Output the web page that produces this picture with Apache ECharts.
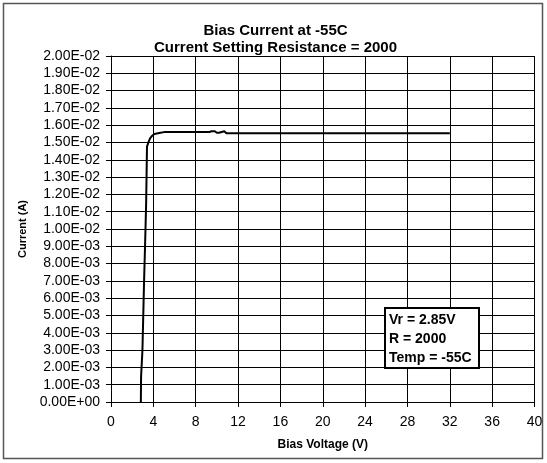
<!DOCTYPE html>
<html>
<head>
<meta charset="utf-8">
<script src="https://cdn.jsdelivr.net/npm/echarts@6/dist/echarts.min.js"></script>
<style>html,body{margin:0;padding:0;background:#fff}#c{width:547px;height:463px}</style>
</head>
<body>
<div id="c"></div>
<script>
const titleLines = ['Bias Current at -55C', 'Current Setting Resistance = 2000'];
const xAxisName = 'Bias Voltage (V)';
const yAxisName = 'Current (A)';
const noteLines = ['Vr = 2.85V', 'R = 2000', 'Temp = -55C'];
const voltage = [2.82, 2.84, 2.95, 2.97, 3.10, 3.12, 3.20, 3.22, 3.30, 3.32, 3.40, 3.40, 3.56, 3.69, 3.87, 4.09, 4.56, 5.0, 6.0, 8.0, 9.3, 9.5, 9.8, 10.0, 10.2, 10.3, 10.7, 10.9, 12.0, 16.0, 20.0, 24.0, 28.0, 32.0];
const current = [0, 1.46e-3, 1.50e-3, 3.0e-3, 3.1e-3, 6.9e-3, 7.0e-3, 9.1e-3, 9.2e-3, 11.5e-3, 11.6e-3, 14.76e-3, 15.05e-3, 15.24e-3, 15.38e-3, 15.49e-3, 15.55e-3, 15.60e-3, 15.61e-3, 15.61e-3, 15.61e-3, 15.65e-3, 15.65e-3, 15.56e-3, 15.56e-3, 15.65e-3, 15.65e-3, 15.54e-3, 15.54e-3, 15.53e-3, 15.53e-3, 15.53e-3, 15.53e-3, 15.53e-3];

const series = voltage.map((v, i) => [v, current[i]]);
const F = 'Liberation Sans, Arial, sans-serif';
const chart = echarts.init(document.getElementById('c'), null, {renderer: 'canvas'});
chart.setOption({
  animation: false,
  backgroundColor: '#fff',
  title: {
    text: titleLines.join('\n'),
    left: 270.5, top: 17, textAlign: 'center',
    textStyle: {fontFamily: F, fontSize: 15, fontWeight: 'bold', color: '#000', lineHeight: 17}
  },
  grid: {left: 111, right: 12.5, top: 56, bottom: 61},
  xAxis: {
    type: 'value', min: 0, max: 40, interval: 4,
    name: xAxisName, nameLocation: 'middle', nameGap: 37,
    nameTextStyle: {fontFamily: F, fontSize: 12, fontWeight: 'bold', color: '#000'},
    axisLine: {show: true, onZero: false, lineStyle: {color: '#000', width: 1}},
    axisTick: {show: true, length: 5, lineStyle: {color: '#000'}},
    axisLabel: {fontFamily: F, fontSize: 14, color: '#000', margin: 13},
    splitLine: {show: true, lineStyle: {color: '#000', width: 1}}
  },
  yAxis: {
    type: 'value', min: 0, max: 0.02, interval: 0.001,
    name: yAxisName, nameLocation: 'middle', nameGap: 83, nameRotate: 90,
    nameTextStyle: {fontFamily: F, fontSize: 11, fontWeight: 'bold', color: '#000'},
    axisLine: {show: true, lineStyle: {color: '#000', width: 1}},
    axisTick: {show: true, length: 5, lineStyle: {color: '#000'}},
    axisLabel: {
      fontFamily: F, fontSize: 14, color: '#000', margin: 11,
      formatter: v => {
        let s = Number(v).toExponential(2).toUpperCase();
        s = s.replace(/E([+-])(\d)$/, 'E$10$2');
        return s;
      }
    },
    splitLine: {show: true, lineStyle: {color: '#000', width: 1}}
  },
  series: [{
    type: 'line', data: series, showSymbol: false, symbol: 'none',
    lineStyle: {color: '#000', width: 2}
  }],
  graphic: [
    {type: 'rect', shape: {x: 3.5, y: 3.5, width: 539, height: 455}, style: {fill: 'none', stroke: '#555', lineWidth: 1.5}, silent: true},
    {type: 'rect', shape: {x: 385, y: 308, width: 94, height: 60}, style: {fill: '#fff', stroke: '#000', lineWidth: 2}, z: 100},
    {type: 'text', left: 389, top: 311, z: 101,
     style: {text: noteLines.join('\n'), fontFamily: F, fontSize: 14, fontWeight: 'bold', fill: '#000', lineHeight: 19}}
  ]
});
</script>
</body>
</html>
